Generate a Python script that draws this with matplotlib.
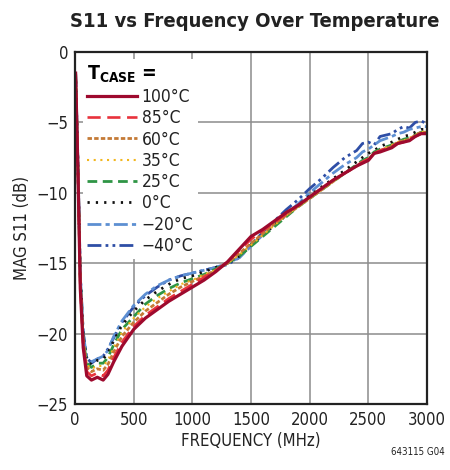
import matplotlib
matplotlib.use("Agg")
import matplotlib.pyplot as plt

# frequency points (MHz) shared by all traces
freq = [5, 25, 45, 70, 100, 140, 190, 240, 280, 330, 400, 500, 600, 700, 800,
        900, 1000, 1100, 1200, 1300, 1400, 1500, 1600, 1700, 1800, 1900, 2000,
        2100, 2200, 2300, 2400, 2450, 2500, 2550, 2600, 2700, 2750, 2800, 2850,
        2900, 2950, 3000]

# MAG S11 (dB) per case temperature
s11_100 = [-1.5, -8.5, -16.8, -21.0, -23.0, -23.3, -23.1, -23.3, -22.9, -22.0, -20.9, -19.7, -18.9, -18.3, -17.7,
           -17.2, -16.7, -16.2, -15.6, -14.9, -14.0, -13.1, -12.6, -12.0, -11.4, -10.9, -10.3,
           -9.7, -9.1, -8.6, -8.1, -7.9, -7.7, -7.2, -7.1, -6.8, -6.5, -6.4, -6.3,
           -6.0, -5.8, -5.8]
s11_85 = [-1.5, -8.4, -16.6, -20.8, -22.7, -23.0, -22.8, -23.0, -22.6, -21.7, -20.6, -19.5, -18.7, -18.1, -17.5,
          -17.0, -16.5, -16.0, -15.5, -14.9, -14.1, -13.3, -12.7, -12.1, -11.5, -10.9, -10.3,
          -9.7, -9.1, -8.6, -8.1, -7.8, -7.6, -7.2, -7.0, -6.7, -6.5, -6.4, -6.2,
          -6.0, -5.8, -5.7]
s11_60 = [-1.5, -8.3, -16.4, -20.6, -22.4, -22.7, -22.5, -22.6, -22.2, -21.3, -20.2, -19.2, -18.4, -17.8, -17.2,
          -16.7, -16.3, -15.9, -15.5, -15.0, -14.3, -13.6, -12.9, -12.2, -11.6, -11.0, -10.4,
          -9.8, -9.2, -8.6, -8.1, -7.8, -7.6, -7.2, -7.0, -6.7, -6.4, -6.3, -6.2,
          -5.9, -5.7, -5.7]
s11_35 = [-1.5, -8.2, -16.3, -20.5, -22.2, -22.5, -22.3, -22.3, -21.9, -21.0, -19.9, -18.9, -18.1, -17.5, -17.0,
          -16.5, -16.2, -15.8, -15.5, -15.0, -14.4, -13.7, -13.0, -12.3, -11.6, -11.0, -10.4,
          -9.8, -9.2, -8.6, -8.1, -7.8, -7.6, -7.2, -7.0, -6.6, -6.4, -6.3, -6.1,
          -5.9, -5.7, -5.6]
s11_25 = [-1.5, -8.1, -16.2, -20.4, -22.1, -22.4, -22.1, -22.1, -21.7, -20.8, -19.7, -18.8, -17.9, -17.3, -16.8,
          -16.4, -16.1, -15.8, -15.4, -15.0, -14.5, -13.8, -13.1, -12.4, -11.7, -11.0, -10.4,
          -9.8, -9.2, -8.6, -8.0, -7.7, -7.5, -7.1, -6.9, -6.6, -6.4, -6.2, -6.1,
          -5.9, -5.7, -5.6]
s11_0 = [-1.5, -8.0, -16.0, -20.2, -21.9, -22.2, -21.9, -21.8, -21.4, -20.5, -19.4, -18.4, -17.6, -17.0, -16.5,
         -16.1, -15.9, -15.6, -15.3, -15.0, -14.5, -13.7, -13.0, -12.3, -11.6, -10.9, -10.2,
         -9.6, -9.0, -8.4, -7.8, -7.5, -7.2, -7.0, -6.7, -6.4, -6.2, -6.0, -5.9,
         -5.7, -5.5, -5.5]
s11_m20 = [-1.5, -7.9, -15.8, -20.0, -21.7, -22.0, -21.8, -21.6, -21.2, -20.2, -19.1, -18.0, -17.2, -16.6, -16.2,
           -15.9, -15.7, -15.5, -15.3, -15.0, -14.6, -13.8, -13.0, -12.2, -11.5, -10.8, -10.0,
           -9.3, -8.6, -8.0, -7.5, -7.1, -6.9, -6.6, -6.3, -6.0, -5.8, -5.7, -5.5,
           -5.4, -5.3, -5.3]
s11_m40 = [-1.5, -7.8, -15.7, -19.9, -21.7, -22.1, -21.8, -21.6, -21.1, -20.3, -19.2, -18.1, -17.3, -16.7, -16.2,
           -15.9, -15.7, -15.5, -15.3, -15.1, -14.6, -13.7, -12.8, -12.0, -11.2, -10.5, -9.7,
           -9.0, -8.2, -7.5, -7.0, -6.5, -6.4, -6.6, -6.0, -5.8, -5.5, -5.3, -5.4,
           -5.0, -4.9, -5.1]

labels = ["100°C", "85°C", "60°C", "35°C", "25°C", "0°C", "\u221220°C", "\u221240°C"]
series = [s11_100, s11_85, s11_60, s11_35, s11_25, s11_0, s11_m20, s11_m40]
x_ticks = [0, 500, 1000, 1500, 2000, 2500, 3000]
y_ticks = [0, -5, -10, -15, -20, -25]

styles = [
    dict(color="#9e0a2e", lw=2.3, ls="-"),
    dict(color="#e8323c", lw=1.9, ls=(0, (5, 2.5))),
    dict(color="#c47a36", lw=2.0, ls=(0, (1.6, 0.8))),
    dict(color="#f2b61e", lw=1.5, ls=(0, (1, 2.2))),
    dict(color="#2f9545", lw=2.0, ls=(0, (3.5, 2))),
    dict(color="#111111", lw=2.0, ls=(0, (0.8, 2.2))),
    dict(color="#5d8fd2", lw=2.0, ls=(0, (5, 1.5, 1.5, 1.5))),
    dict(color="#2e4ea6", lw=2.0, ls=(0, (5, 1.5, 1, 1.5, 1, 1.5))),
]

plt.rcParams["font.family"] = ["DejaVu Sans", "Liberation Sans"]
plt.rcParams["font.stretch"] = "condensed"
plt.rcParams["mathtext.fontset"] = "custom"
plt.rcParams["mathtext.rm"] = "DejaVu Sans:bold"

fig = plt.figure(figsize=(4.5, 4.7), dpi=100)
ax = fig.add_axes([0.1667, 0.1404, 0.7822, 0.749])

handles = [None] * len(series)
for i in reversed(range(len(series))):
    st = styles[i]
    (h,) = ax.plot(freq, series[i], color=st["color"], lw=st["lw"], ls=st["ls"],
                   dash_capstyle="butt", solid_joinstyle="round")
    handles[i] = h

ax.set_xlim(0, 3000)
ax.set_ylim(-25, 0)
ax.set_xticks(x_ticks)
ax.set_yticks(y_ticks)
ax.set_xticklabels([str(v) for v in x_ticks])
ax.set_yticklabels([str(v).replace("-", "\u2212") for v in y_ticks])
ax.tick_params(length=0, labelsize=12, pad=5, colors="#222222")
ax.grid(True, color="#8c8c8c", lw=1.1)
ax.set_axisbelow(True)
for sp in ax.spines.values():
    sp.set_linewidth(1.6)
    sp.set_color("#222222")

ax.set_xlabel("FREQUENCY (MHz)", fontsize=12, color="#222222", labelpad=2)
ax.set_ylabel("MAG S11 (dB)", fontsize=12, color="#222222", labelpad=4)

leg = ax.legend(handles, labels, loc="upper left", bbox_to_anchor=(0.012, 0.99),
                title="T$_{\\mathrm{CASE}}$ =", fontsize=12.5, handlelength=2.9,
                handletextpad=0.25, labelspacing=0.19, borderpad=0.25,
                borderaxespad=0.2, frameon=True, fancybox=False, framealpha=1.0,
                facecolor="white", edgecolor="none", alignment="left")
leg.get_title().set_fontsize(14)
leg.get_title().set_fontweight("bold")
for t in leg.get_texts():
    t.set_color("#222222")

fig.text(0.567, 0.942, "S11 vs Frequency Over Temperature", ha="center",
         fontsize=14.5, fontweight="bold", color="#222222")
fig.text(0.928, 0.032, "643115 G04", ha="center", fontsize=7, color="#222222")

fig.savefig("out.png", dpi=100)
